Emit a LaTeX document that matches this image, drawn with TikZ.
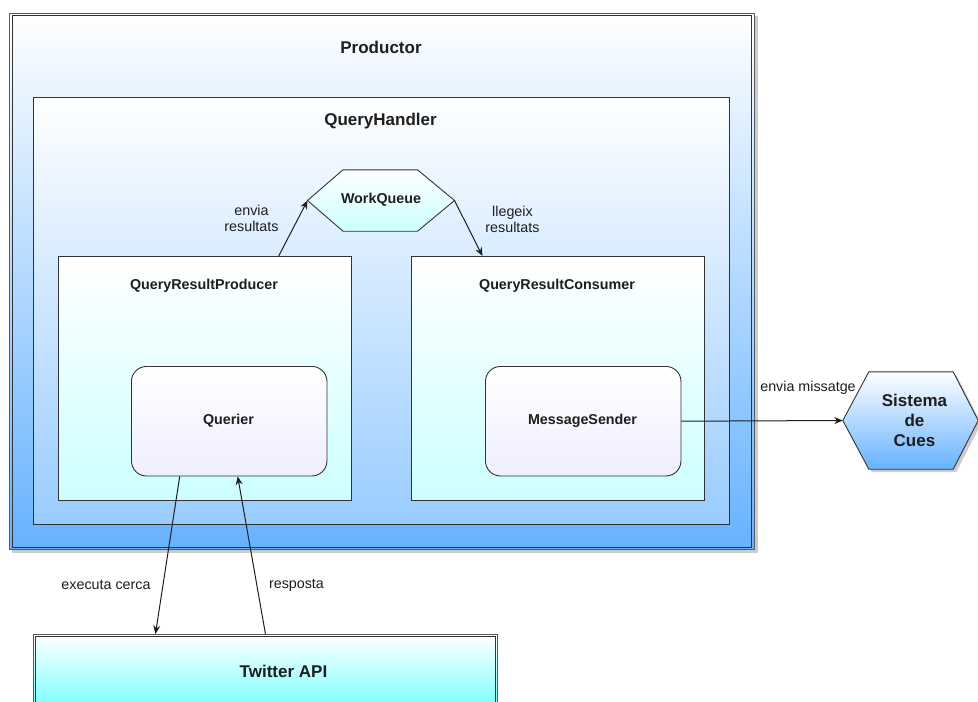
\documentclass[tikz,border=0pt]{standalone}
\usepackage{fontspec}
\setmainfont{Liberation Sans}
\usetikzlibrary{arrows.meta,calc}

\definecolor{deepblue}{RGB}{102,178,255}
\definecolor{paleblue}{RGB}{153,204,255}
\definecolor{palecyan}{RGB}{204,255,255}
\definecolor{lavender}{RGB}{238,238,255}
\definecolor{brightcyan}{RGB}{102,255,255}
\definecolor{edge}{RGB}{51,51,51}
\definecolor{ink}{RGB}{30,30,30}

\tikzset{
  box/.style={draw=edge, line width=0.9pt, inner sep=0pt, anchor=north west},
  titletext/.style={font=\fontsize{17}{20}\selectfont\bfseries, text=ink, align=center, inner sep=0pt},
  subtext/.style={font=\fontsize{14.3}{17}\selectfont\bfseries, text=ink, align=center, inner sep=0pt},
  edgetext/.style={font=\fontsize{14.3}{16}\selectfont, text=ink, align=center, inner sep=0pt},
  flow/.style={draw=ink, line width=1pt, -{Stealth[length=8.5pt,width=7pt]}},
  shadowfill/.style={fill=black!20},
}

\begin{document}
\begin{tikzpicture}[x=1pt,y=-1pt]
  \clip (0,0) rectangle (978,702);
  \fill[white] (0,0) rectangle (978,702);

  % Productor container with shadow and double border
  \fill[shadowfill] (12,16) rectangle (757.5,552.5);
  \node[box, draw=black!65, top color=white, bottom color=deepblue,
        minimum width=745pt, minimum height=536pt] (prod) at (9,13) {};
  \draw[edge, line width=0.9pt] ([xshift=3pt,yshift=-2.6pt]prod.north west)
        rectangle ([xshift=-3pt,yshift=2.6pt]prod.south east);
  \node[titletext] (prodtitle) at (381,47) {Productor};

  % QueryHandler
  \node[box, top color=white, bottom color=paleblue,
        minimum width=695.5pt, minimum height=427pt] (qh) at (33,97) {};
  \node[titletext] (qhtitle) at (380.5,121) {QueryHandler};

  % Producer and consumer
  \node[box, top color=white, bottom color=palecyan,
        minimum width=292.5pt, minimum height=244pt] (qrp) at (58,256) {};
  \node[subtext] (qrptitle) at (204,285.5) {QueryResultProducer};
  \node[box, top color=white, bottom color=palecyan,
        minimum width=293pt, minimum height=244pt] (qrc) at (411,256) {};
  \node[subtext] (qrctitle) at (557,285.5) {QueryResultConsumer};

  % Inner components
  \node[box, rounded corners=15pt, top color=white, bottom color=lavender,
        minimum width=195.5pt, minimum height=109.5pt] (querier) at (131,366) {};
  \node[subtext] (queriertext) at (228.5,420.5) {Querier};
  \node[box, rounded corners=15pt, top color=white, bottom color=lavender,
        minimum width=195.5pt, minimum height=109.5pt] (ms) at (485,366) {};
  \node[subtext] (mstext) at (582.5,420.5) {MessageSender};

  % WorkQueue hexagon
  \node[minimum width=146.6pt, minimum height=61pt, inner sep=0pt] (wq) at (381,200.5) {};
  \draw[edge, line width=0.9pt, top color=white, bottom color=palecyan]
    (wq.west) -- ([xshift=35.5pt]wq.north west) -- ([xshift=-37pt]wq.north east)
    -- (wq.east) -- ([xshift=-37pt]wq.south east) -- ([xshift=35.5pt]wq.south west) -- cycle;
  \node[subtext] (wqtext) at (381,200) {WorkQueue};

  % Sistema de Cues hexagon with shadow
  \node[minimum width=135pt, minimum height=97pt, inner sep=0pt] (scshadow) at (913.5,423.5) {};
  \fill[shadowfill]
    (scshadow.west) -- ([xshift=26pt]scshadow.north west) -- ([xshift=-25pt]scshadow.north east)
    -- (scshadow.east) -- ([xshift=-25pt]scshadow.south east) -- ([xshift=26pt]scshadow.south west) -- cycle;
  \node[minimum width=135pt, minimum height=97pt, inner sep=0pt] (sc) at (910.5,420.5) {};
  \draw[edge, line width=0.9pt, top color=white, bottom color=deepblue]
    (sc.west) -- ([xshift=26pt]sc.north west) -- ([xshift=-25pt]sc.north east)
    -- (sc.east) -- ([xshift=-25pt]sc.south east) -- ([xshift=26pt]sc.south west) -- cycle;
  \node[titletext] (sctext) at (914.5,420.5) {Sistema\\de\\Cues};

  % Twitter API
  \node[box, draw=black!65, top color=white, bottom color=brightcyan,
        minimum width=464pt, minimum height=84pt] (tw) at (33,634) {};
  \draw[edge, line width=0.9pt] ([xshift=2.7pt,yshift=-2.7pt]tw.north west)
        rectangle ([xshift=-2.3pt,yshift=2.7pt]tw.south east);
  \node[titletext] (twtext) at (283.5,671) {Twitter API};

  % Connectors
  \draw[flow] ([xshift=74pt]qrp.north) -- (wq.west);
  \draw[flow] (wq.east) -- ([xshift=-75.5pt]qrc.north);
  \draw[flow] (ms.east) -- (sc.west);
  \draw[flow] ([xshift=-49.5pt]querier.south) -- ([xshift=-110pt]tw.north);
  \draw[flow] (tw.north) -- ([xshift=8.5pt]querier.south);

  % Connector labels
  \node[edgetext] (l1) at (251.5,218) {envia\\resultats};
  \node[edgetext] (l2) at (512.5,219) {llegeix\\resultats};
  \node[edgetext] (l3) at (808,388) {envia missatge};
  \node[edgetext] (l4) at (106,585) {executa cerca};
  \node[edgetext] (l5) at (296.5,585) {resposta};
\end{tikzpicture}
\end{document}
